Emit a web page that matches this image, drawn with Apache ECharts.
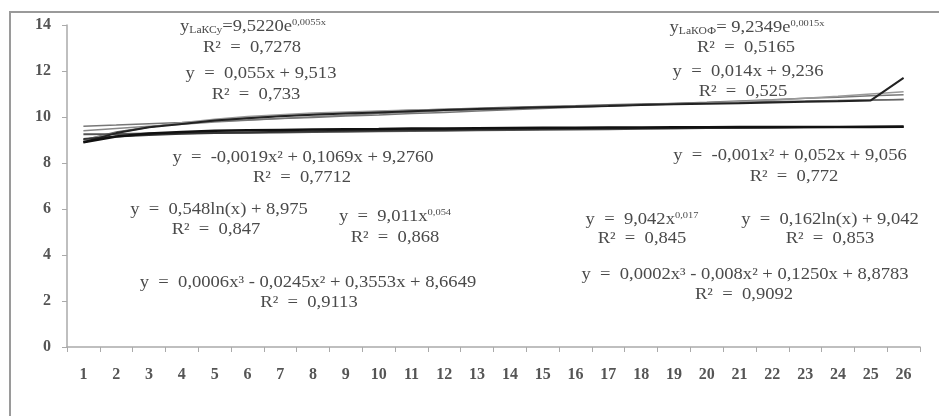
<!DOCTYPE html>
<html><head><meta charset="utf-8">
<script src="https://cdn.jsdelivr.net/npm/echarts@6/dist/echarts.min.js"></script>
<style>html,body{margin:0;padding:0;background:#fff}#c{width:939px;height:416px}</style>
</head><body><div id="c"></div>
<script>
const categories = ['1','2','3','4','5','6','7','8','9','10','11','12','13','14','15','16','17','18','19','20','21','22','23','24','25','26'];
const yTicks = [0, 2, 4, 6, 8, 10, 12, 14];

const upperData   = [8.9, 9.3, 9.55, 9.7, 9.85, 9.95, 10.03, 10.1, 10.15, 10.2, 10.25, 10.3, 10.35, 10.38, 10.42, 10.45, 10.48, 10.52, 10.55, 10.58, 10.6, 10.63, 10.66, 10.68, 10.72, 11.7];
const upperLinear = [9.6, 9.65, 9.71, 9.76, 9.82, 9.87, 9.93, 9.98, 10.04, 10.09, 10.15, 10.2, 10.26, 10.31, 10.37, 10.42, 10.48, 10.53, 10.59, 10.64, 10.7, 10.75, 10.81, 10.86, 10.92, 10.97];
const upperPoly2  = [9.4, 9.5, 9.6, 9.69, 9.78, 9.86, 9.94, 10.01, 10.08, 10.15, 10.21, 10.27, 10.32, 10.37, 10.42, 10.46, 10.5, 10.54, 10.57, 10.6, 10.63, 10.66, 10.69, 10.71, 10.73, 10.76];
const upperLog    = [9.0, 9.35, 9.57, 9.73, 9.86, 9.96, 10.04, 10.12, 10.18, 10.24, 10.29, 10.34, 10.38, 10.42, 10.46, 10.49, 10.53, 10.56, 10.59, 10.62, 10.64, 10.67, 10.69, 10.72, 10.74, 10.76];
const upperPoly3  = [9.0, 9.3, 9.55, 9.75, 9.9, 10.02, 10.1, 10.17, 10.22, 10.26, 10.3, 10.33, 10.36, 10.39, 10.42, 10.45, 10.48, 10.52, 10.56, 10.61, 10.67, 10.74, 10.82, 10.9, 11.0, 11.1];

// lower group (LаКОФ)
const lowerData   = [8.9, 9.15, 9.28, 9.35, 9.4, 9.42, 9.44, 9.46, 9.47, 9.48, 9.5, 9.5, 9.51, 9.52, 9.53, 9.53, 9.54, 9.54, 9.55, 9.55, 9.56, 9.56, 9.57, 9.57, 9.57, 9.58];
const lowerLinear = [9.25, 9.26, 9.28, 9.29, 9.31, 9.32, 9.33, 9.35, 9.36, 9.38, 9.39, 9.4, 9.42, 9.43, 9.45, 9.46, 9.47, 9.49, 9.5, 9.52, 9.53, 9.54, 9.56, 9.57, 9.59, 9.6];
const lowerLog    = [9.04, 9.15, 9.22, 9.27, 9.3, 9.33, 9.36, 9.38, 9.4, 9.41, 9.43, 9.44, 9.46, 9.47, 9.48, 9.49, 9.5, 9.51, 9.52, 9.53, 9.53, 9.54, 9.55, 9.56, 9.56, 9.57];

// equation annotations
const eqTexts = [
  'y{sub|LаКСу}=9,5220e{sup|0,0055x}', 'R² = 0,7278',
  'y = 0,055x + 9,513', 'R² = 0,733',
  'y = -0,0019x² + 0,1069x + 9,2760', 'R² = 0,7712',
  'y = 0,548ln(x) + 8,975', 'R² = 0,847',
  'y = 9,011x{sup|0,054}', 'R² = 0,868',
  'y = 0,0006x³ - 0,0245x² + 0,3553x + 8,6649', 'R² = 0,9113',
  'y{sub|LаКОФ}= 9,2349e{sup|0,0015x}', 'R² = 0,5165',
  'y = 0,014x + 9,236', 'R² = 0,525',
  'y = -0,001x² + 0,052x + 9,056', 'R² = 0,772',
  'y = 9,042x{sup|0,017}', 'R² = 0,845',
  'y = 0,162ln(x) + 9,042', 'R² = 0,853',
  'y = 0,0002x³ - 0,008x² + 0,1250x + 8,8783', 'R² = 0,9092'
];
const eqPos = [
  [253,27],[252,48],[261,74],[256,95],[303,158],[302,178],[219,210],[216,230],[395,217],[395,238],[308,283],[309,303],
  [747,28],[746,48],[748,72],[743,92],[790,156],[794,177],[642,220],[642,239],[830,220],[830,239],[745,275],[744,295]
];

const chart = echarts.init(document.getElementById('c'));
const serif = '"Liberation Serif", "DejaVu Serif", serif';
const textColor = '#4a4a4a';
function line(data, color, width, z) {
  return { type: 'line', data: data, symbol: 'none', smooth: false, z: z,
    lineStyle: { color: color, width: width }, emphasis: { disabled: true } };
}
const graphics = [{
  type: 'rect', shape: { x: 10, y: 12, width: 940, height: 420 }, z: -10,
  style: { fill: 'none', stroke: '#9a9a9a', lineWidth: 2 }, silent: true
}];
eqTexts.forEach((t, i) => {
  const txt = t.replace(/ = /g, '  =  ');
  graphics.push({
    type: 'text', x: eqPos[i][0], y: eqPos[i][1], z: 10, scaleX: 1.16,
    style: {
      text: txt, fill: textColor, font: '16px ' + serif,
      textAlign: 'center', textVerticalAlign: 'middle',
      rich: {
        sub: { fontSize: 10, fontFamily: serif, fill: textColor, verticalAlign: 'bottom', padding: [6,0,0,0] },
        sup: { fontSize: 9, fontFamily: serif, fill: textColor, verticalAlign: 'top', padding: [0,0,8,0] }
      }
    }
  });
});
chart.setOption({
  animation: false,
  backgroundColor: '#fff',
  grid: { left: 67, right: 19, top: 25, bottom: 69, containLabel: false },
  xAxis: {
    type: 'category', data: categories, boundaryGap: true,
    axisLine: { lineStyle: { color: '#aaa', width: 1.5 } },
    axisTick: { show: true, length: 5, lineStyle: { color: '#aaa' } },
    axisLabel: { color: '#555', fontFamily: serif, fontSize: 16, margin: 20, fontWeight: 'bold' }
  },
  yAxis: {
    type: 'value', min: yTicks[0], max: yTicks[yTicks.length - 1], interval: 2,
    axisLine: { show: true, lineStyle: { color: '#aaa', width: 1.5 } },
    axisTick: { show: true, length: 5, lineStyle: { color: '#aaa' } },
    splitLine: { show: false },
    axisLabel: { color: '#555', fontFamily: serif, fontSize: 16, margin: 16, fontWeight: 'bold' }
  },
  series: [
    line(upperPoly2, '#888', 1.5, 2),
    line(upperLinear, '#777', 1.5, 2),
    line(upperLog, '#666', 1.5, 2),
    line(upperPoly3, '#999', 1.5, 2),
    line(upperData, '#222', 2, 3),
    line(lowerLinear, '#555', 2, 2),
    line(lowerLog, '#333', 2, 2),
    line(lowerData, '#111', 2.5, 3)
  ],
  graphic: graphics
});
</script></body></html>
